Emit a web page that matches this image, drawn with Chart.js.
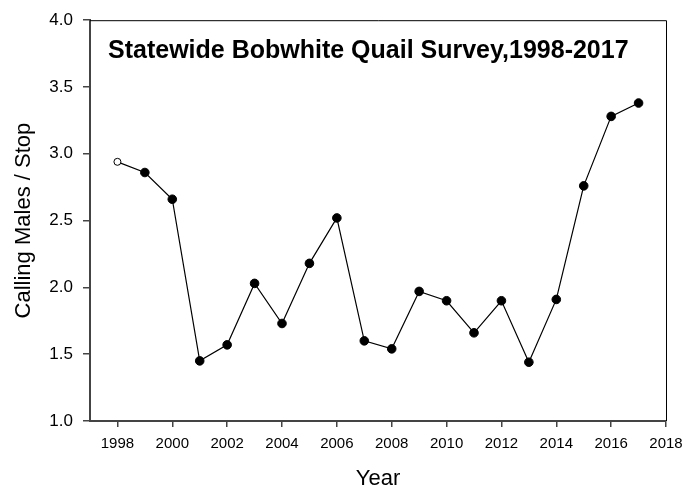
<!DOCTYPE html>
<html lang="en">
<head>
    <meta charset="UTF-8">
    <title>Statewide Bobwhite Quail Survey</title>
    <script src="https://cdn.jsdelivr.net/npm/chart.js"></script>
    <style>
        html, body { margin: 0; padding: 0; background: #fff; }
        #wrap { width: 686px; height: 495px; }
    </style>
</head>
<body>
    <div id="wrap"><canvas id="quailChart"></canvas></div>

    <script>
        // values
        const years = [1998, 1999, 2000, 2001, 2002, 2003, 2004, 2005, 2006, 2007,
                       2008, 2009, 2010, 2011, 2012, 2013, 2014, 2015, 2016, 2017];
        const callingMales = [2.94, 2.86, 2.66, 1.45, 1.57, 2.03, 1.73, 2.18, 2.52, 1.60,
                              1.54, 1.97, 1.90, 1.66, 1.90, 1.44, 1.91, 2.76, 3.28, 3.38];
        const xTicks = [1998, 2000, 2002, 2004, 2006, 2008, 2010, 2012, 2014, 2016, 2018];
        const yTicks = [1.0, 1.5, 2.0, 2.5, 3.0, 3.5, 4.0];
        const chartTitle = 'Statewide Bobwhite Quail Survey,1998-2017';

        const points = years.map((y, i) => ({ x: y, y: callingMales[i] }));

        // frame + title inside the plot
        const framePlugin = {
            id: 'frame',
            afterDraw(chart) {
                const { ctx, chartArea: a } = chart;
                ctx.save();
                ctx.strokeStyle = '#000';
                ctx.lineWidth = 1;
                ctx.beginPath();
                ctx.moveTo(a.left, a.top + 0.5);
                ctx.lineTo(a.right + 0.5, a.top + 0.5);
                ctx.lineTo(a.right + 0.5, a.bottom);
                ctx.stroke();
                ctx.fillStyle = '#000';
                ctx.font = 'bold 25px "Liberation Sans", Arial, sans-serif';
                ctx.textAlign = 'left';
                ctx.textBaseline = 'alphabetic';
                ctx.fillText(chartTitle, a.left + 18, a.top + 38);
                ctx.restore();
            }
        };

        const ctx = document.getElementById('quailChart').getContext('2d');
        new Chart(ctx, {
            type: 'line',
            data: {
                datasets: [{
                    data: points,
                    borderColor: '#000',
                    borderWidth: 1.2,
                    pointRadius: years.map(y => y === 1998 ? 3.5 : 4.3),
                    pointBackgroundColor: years.map(y => y === 1998 ? '#fff' : '#000'),
                    pointBorderColor: '#000',
                    pointBorderWidth: 1,
                    tension: 0
                }]
            },
            options: {
                responsive: true,
                maintainAspectRatio: false,
                animation: false,
                layout: { padding: { top: 16, right: 20, left: 0, bottom: 0 } },
                plugins: {
                    legend: { display: false },
                    tooltip: { enabled: false }
                },
                scales: {
                    x: {
                        type: 'linear',
                        min: 1997,
                        max: 2018,
                        afterBuildTicks: s => { s.ticks = xTicks.map(v => ({ value: v })); },
                        afterFit: s => { s.height = 74; s.paddingLeft = 0; s.paddingRight = 0; },
                        ticks: {
                            color: '#000',
                            font: { family: '"Liberation Sans", Arial, sans-serif', size: 15 },
                            padding: 8,
                            maxRotation: 0,
                            callback: v => String(v)
                        },
                        grid: { drawOnChartArea: false, drawTicks: true, tickLength: 6, color: '#444', lineWidth: 1.5 },
                        border: { display: true, color: '#444', width: 2 },
                        title: {
                            display: true,
                            text: 'Year',
                            color: '#000',
                            font: { family: '"Liberation Sans", Arial, sans-serif', size: 22 },
                            padding: { top: 0, bottom: 3 }
                        }
                    },
                    y: {
                        min: 1.0,
                        max: 4.0,
                        afterBuildTicks: s => { s.ticks = yTicks.map(v => ({ value: v })); },
                        afterFit: s => { s.width = 90; },
                        ticks: {
                            color: '#000',
                            font: { family: '"Liberation Sans", Arial, sans-serif', size: 17 },
                            padding: 10,
                            callback: v => Number(v).toFixed(1)
                        },
                        grid: { drawOnChartArea: false, drawTicks: true, tickLength: 7, color: '#444', lineWidth: 1.5 },
                        border: { display: true, color: '#444', width: 2 },
                        title: {
                            display: true,
                            text: 'Calling Males / Stop',
                            color: '#000',
                            font: { family: '"Liberation Sans", Arial, sans-serif', size: 22 },
                            padding: { top: 11, bottom: 0 }
                        }
                    }
                }
            },
            plugins: [framePlugin]
        });
    </script>
</body>
</html>
